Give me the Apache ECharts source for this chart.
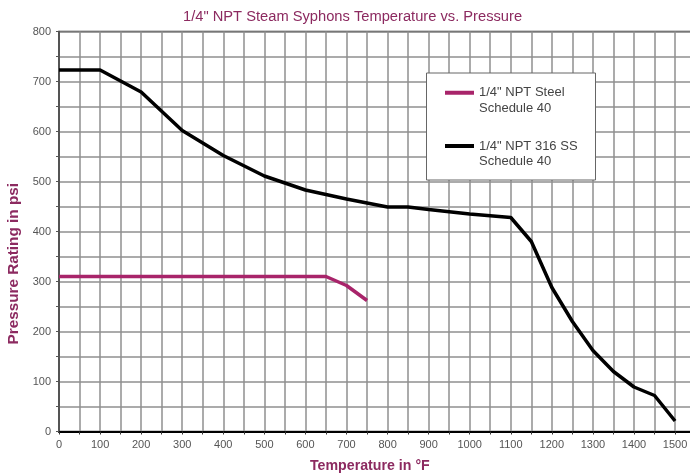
<!DOCTYPE html>
<html>
<head>
<meta charset="utf-8">
<script src="https://cdn.jsdelivr.net/npm/echarts@6/dist/echarts.min.js"></script>
<style>
html,body{margin:0;padding:0;background:#fff;}
#chart{width:690px;height:473px;}
</style>
</head>
<body>
<div id="chart"></div>
<script>
// ---- data ----
var titleText = '1/4" NPT Steam Syphons Temperature vs. Pressure';
var xAxisName = 'Temperature in \u00B0F';
var yAxisName = 'Pressure Rating in psi';
var seriesNames = ['1/4" NPT Steel\nSchedule 40', '1/4" NPT 316 SS\nSchedule 40'];

var tempsSteel    = [0, 100, 200, 300, 400, 500, 600, 650, 700, 750];
var pressureSteel = [310, 310, 310, 310, 310, 310, 310, 310, 292, 262];

var temps316    = [0, 100, 200, 300, 400, 500, 600, 700, 800, 850, 900, 1000, 1100, 1150, 1200, 1250, 1300, 1350, 1400, 1450, 1500];
var pressure316 = [723, 723, 679, 602, 552, 511, 483, 465, 449, 449, 444, 435, 428, 380, 288, 220, 162, 120, 89, 72, 21];

function pairs(xs, ys) { return xs.map(function (x, i) { return [x, ys[i]]; }); }

var chart = echarts.init(document.getElementById('chart'), null, {renderer: 'canvas'});
var fontFam = '"Liberation Sans", Arial, sans-serif';
var maroon = '#8c2a60';

chart.setOption({
  animation: false,
  backgroundColor: '#ffffff',
  textStyle: {fontFamily: fontFam},
  grid: {
    left: 59, top: 31.5, width: 636.6, height: 400,
    containLabel: false, outerBoundsMode: 'none',
    show: true, borderColor: '#333', borderWidth: 1.5, backgroundColor: 'transparent'
  },
  xAxis: {
    type: 'value', min: 0, max: 1550, interval: 50,
    axisLine: {lineStyle: {color: '#000', width: 2}},
    axisTick: {show: true, length: 3, lineStyle: {color: '#333'}},
    axisLabel: {
      color: '#555', fontSize: 11, margin: 8, fontFamily: fontFam,
      formatter: function (v) { return (v % 100 === 0 && v <= 1500) ? String(v) : ''; }
    },
    splitLine: {show: true, lineStyle: {color: '#8f8f8f', width: 1.5}}
  },
  yAxis: {
    type: 'value', min: 0, max: 800, interval: 50,
    axisLine: {show: true, lineStyle: {color: '#444', width: 1.5}},
    axisTick: {show: true, length: 3, lineStyle: {color: '#555'}},
    axisLabel: {
      color: '#555', fontSize: 11, margin: 8, fontFamily: fontFam,
      formatter: function (v) { return v % 100 === 0 ? String(v) : ''; }
    },
    splitLine: {show: true, lineStyle: {color: '#8f8f8f', width: 1.5}}
  },
  legend: {
    orient: 'vertical', left: 445, top: 69.5, itemGap: 6.75, z: 20,
    itemWidth: 29, itemHeight: 4, icon: 'rect',
    padding: 0,
    formatter: function (name) { return '\n' + name; },
    textStyle: {color: '#444', fontSize: 13, lineHeight: 15.5, fontFamily: fontFam},
    data: [seriesNames[0], seriesNames[1]]
  },
  graphic: [
    {type: 'rect', z: 1, shape: {x: 426.5, y: 73, width: 169, height: 107},
     style: {fill: '#fff', stroke: '#666', lineWidth: 1}},
    {type: 'text', left: 183, top: 9, z: 10,
     style: {text: titleText, font: 'normal 14.7px ' + fontFam, fill: maroon}},
    {type: 'text', left: 310, top: 459, z: 10,
     style: {text: xAxisName, font: 'bold 14.2px ' + fontFam, fill: maroon}},
    {type: 'text', left: 6, top: 183, rotation: Math.PI / 2, z: 10,
     style: {text: yAxisName, font: 'bold 15.3px ' + fontFam, fill: maroon}}
  ],
  series: [
    {
      name: seriesNames[0], type: 'line', showSymbol: false, symbol: 'none',
      data: pairs(tempsSteel, pressureSteel),
      lineStyle: {color: '#a8246a', width: 3.5}, itemStyle: {color: '#a8246a'}, z: 3
    },
    {
      name: seriesNames[1], type: 'line', showSymbol: false, symbol: 'none',
      data: pairs(temps316, pressure316),
      lineStyle: {color: '#000', width: 3.5}, itemStyle: {color: '#000'}, z: 3
    }
  ]
});
</script>
</body>
</html>
